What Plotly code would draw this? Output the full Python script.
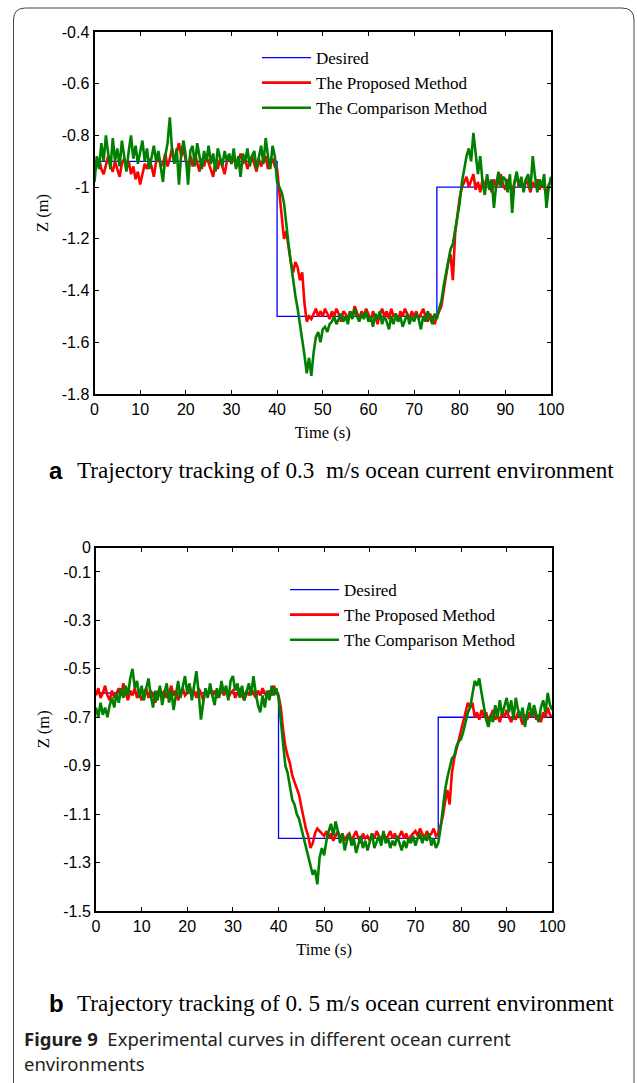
import plotly.graph_objects as go

W, H = 637, 1083

# ---------------- data ----------------
time_s = [i * 0.5 for i in range(201)]  # sampling grid 0..100 s

# desired step trajectories (breakpoints, drawn with hv steps)
desired_t = [0, 40, 75, 100]
desired_a = [-0.9, -1.5, -1.0, -1.0]
desired_b = [-0.6, -1.2, -0.7, -0.7]

proposed_a = [
    -0.90, -0.92, -0.89, -0.93, -0.95, -0.91, -0.88, -0.92, -0.94, -0.90,
    -0.93, -0.96, -0.91, -0.89, -0.93, -0.90, -0.95, -0.92, -0.97, -0.94,
    -0.99, -0.95, -0.91, -0.93, -0.89, -0.92, -0.96, -0.90, -0.88, -0.92,
    -0.91, -0.87, -0.92, -0.89, -0.85, -0.90, -0.86, -0.83, -0.88, -0.85,
    -0.90, -0.93, -0.88, -0.92, -0.87, -0.91, -0.94, -0.89, -0.92, -0.88,
    -0.91, -0.93, -0.96, -0.90, -0.93, -0.89, -0.92, -0.95, -0.90, -0.88,
    -0.91, -0.88, -0.92, -0.90, -0.87, -0.91, -0.89, -0.93, -0.90, -0.88,
    -0.91, -0.94, -0.89, -0.92, -0.90, -0.88, -0.93, -0.91, -0.89, -0.92,
    -0.93, -1.02, -1.11, -1.20, -1.17, -1.23, -1.29, -1.33, -1.29, -1.31,
    -1.36, -1.33, -1.45, -1.52, -1.50, -1.51, -1.49, -1.47, -1.50, -1.48,
    -1.50, -1.47, -1.49, -1.51, -1.48, -1.50, -1.47, -1.49, -1.52, -1.48,
    -1.49, -1.51, -1.48, -1.50, -1.46, -1.49, -1.51, -1.48, -1.50, -1.47,
    -1.49, -1.52, -1.48, -1.50, -1.53, -1.49, -1.47, -1.50, -1.48, -1.51,
    -1.47, -1.50, -1.49, -1.52, -1.48, -1.50, -1.47, -1.49, -1.51, -1.48,
    -1.50, -1.48, -1.51, -1.49, -1.47, -1.50, -1.52, -1.49, -1.51, -1.53,
    -1.50, -1.48, -1.46, -1.40, -1.35, -1.29, -1.26, -1.36, -1.18, -1.10,
    -1.04, -1.00, -0.98, -0.96, -1.00, -0.97, -0.95, -1.01, -0.98, -1.02,
    -0.97, -1.00, -0.96, -0.99, -1.02, -0.97, -1.00, -0.98, -0.95, -0.99,
    -1.01, -0.97, -0.99, -1.02, -0.98, -0.96, -1.00, -0.98, -1.01, -0.97,
    -0.99, -1.02, -0.98, -1.00, -0.97, -1.01, -0.98, -1.00, -1.03, -0.99,
    -0.98,
]

comparison_a = [
    -0.98, -0.88, -0.93, -0.83, -0.90, -0.80, -0.87, -0.93, -0.81, -0.90,
    -0.85, -0.92, -0.82, -0.88, -0.94, -0.86, -0.80, -0.89, -0.84, -0.91,
    -0.86, -0.82, -0.90, -0.85, -0.93, -0.88, -0.84, -0.90, -0.86, -0.92,
    -0.98, -0.88, -0.83, -0.73, -0.86, -0.91, -0.85, -0.99, -0.87, -0.82,
    -0.88, -0.99, -0.86, -0.84, -0.92, -0.83, -0.89, -0.93, -0.86, -0.90,
    -0.84, -0.91, -0.87, -0.94, -0.85, -0.89, -0.92, -0.86, -0.90, -0.87,
    -0.91, -0.85, -0.93, -0.88, -0.96, -0.87, -0.90, -0.85, -0.92, -0.88,
    -0.86, -0.93, -0.89, -0.84, -0.91, -0.81, -0.88, -0.93, -0.84, -0.88,
    -0.98, -1.00, -1.02, -1.06, -1.15, -1.22, -1.29, -1.36, -1.42, -1.47,
    -1.53, -1.58, -1.65, -1.72, -1.66, -1.73, -1.64, -1.58, -1.56, -1.60,
    -1.55, -1.54, -1.56, -1.53, -1.52, -1.50, -1.53, -1.51, -1.49, -1.52,
    -1.50, -1.53, -1.48, -1.51, -1.47, -1.50, -1.52, -1.49, -1.51, -1.48,
    -1.52, -1.50, -1.54, -1.49, -1.51, -1.48, -1.53, -1.50, -1.52, -1.55,
    -1.50, -1.53, -1.49, -1.52, -1.50, -1.54, -1.51, -1.49, -1.53, -1.50,
    -1.52, -1.49, -1.51, -1.55, -1.50, -1.52, -1.48, -1.51, -1.53, -1.49,
    -1.51, -1.47, -1.44, -1.38, -1.33, -1.28, -1.24, -1.22, -1.17, -1.12,
    -1.06, -0.98, -0.93, -0.88, -0.85, -0.90, -0.79, -0.86, -0.95, -0.88,
    -0.98, -1.03, -0.95, -1.01, -0.97, -1.08, -0.99, -0.94, -1.00, -0.96,
    -0.97, -1.02, -0.95, -1.10, -0.98, -0.94, -1.00, -0.96, -1.02, -0.97,
    -0.95, -1.01, -0.88, -0.96, -1.02, -0.97, -1.00, -0.95, -1.08, -1.00,
    -0.96,
]

proposed_b = [
    -0.61, -0.58, -0.62, -0.60, -0.57, -0.61, -0.63, -0.59, -0.62, -0.60,
    -0.58, -0.61, -0.56, -0.60, -0.63, -0.59, -0.61, -0.58, -0.62, -0.60,
    -0.63, -0.60, -0.58, -0.62, -0.59, -0.61, -0.64, -0.60, -0.58, -0.61,
    -0.59, -0.62, -0.60, -0.57, -0.61, -0.59, -0.63, -0.60, -0.58, -0.61,
    -0.60, -0.57, -0.61, -0.59, -0.62, -0.58, -0.60, -0.63, -0.59, -0.61,
    -0.58, -0.61, -0.59, -0.62, -0.60, -0.57, -0.61, -0.59, -0.62, -0.60,
    -0.59, -0.62, -0.60, -0.58, -0.61, -0.63, -0.59, -0.61, -0.58, -0.60,
    -0.62, -0.59, -0.61, -0.58, -0.60, -0.62, -0.59, -0.61, -0.57, -0.60,
    -0.61, -0.66, -0.75, -0.82, -0.86, -0.89, -0.94, -0.97, -0.99, -1.02,
    -1.07, -1.12, -1.16, -1.19, -1.24, -1.22, -1.18, -1.16, -1.17, -1.18,
    -1.19, -1.17, -1.20, -1.18, -1.21, -1.19, -1.17, -1.20, -1.18, -1.21,
    -1.19, -1.18, -1.21, -1.19, -1.17, -1.20, -1.22, -1.18, -1.20, -1.19,
    -1.21, -1.18, -1.20, -1.17, -1.19, -1.21, -1.18, -1.20, -1.19, -1.17,
    -1.20, -1.18, -1.21, -1.19, -1.17, -1.20, -1.18, -1.21, -1.19, -1.18,
    -1.17, -1.19, -1.16, -1.18, -1.20, -1.17, -1.19, -1.18, -1.16, -1.19,
    -1.18, -1.15, -1.11, -1.05, -1.00, -1.06, -0.93, -0.87, -0.83, -0.79,
    -0.75, -0.71, -0.68, -0.64, -0.66, -0.64, -0.70, -0.68, -0.71, -0.67,
    -0.70, -0.68, -0.72, -0.69, -0.67, -0.71, -0.69, -0.72, -0.68, -0.70,
    -0.67, -0.70, -0.72, -0.69, -0.71, -0.68, -0.70, -0.73, -0.69, -0.71,
    -0.68, -0.70, -0.67, -0.71, -0.69, -0.72, -0.68, -0.70, -0.66, -0.69,
    -0.70,
]

comparison_b = [
    -0.66, -0.70, -0.64, -0.69, -0.66, -0.70, -0.65, -0.62, -0.66, -0.60,
    -0.64, -0.58, -0.62, -0.57, -0.61, -0.54, -0.50, -0.58, -0.55, -0.62,
    -0.57, -0.63, -0.58, -0.54, -0.61, -0.66, -0.59, -0.63, -0.57, -0.65,
    -0.60, -0.56, -0.64, -0.59, -0.67, -0.61, -0.55, -0.62, -0.58, -0.53,
    -0.60, -0.56, -0.63, -0.57, -0.51, -0.60, -0.71, -0.64, -0.58, -0.62,
    -0.56, -0.61, -0.65, -0.58, -0.62, -0.55, -0.60, -0.57, -0.63, -0.55,
    -0.53, -0.59, -0.56, -0.62, -0.57, -0.63, -0.59, -0.56, -0.61, -0.53,
    -0.60, -0.65, -0.68, -0.61, -0.66, -0.59, -0.63, -0.57, -0.61, -0.58,
    -0.62, -0.72, -0.83, -0.90, -0.93, -0.98, -1.04, -1.06, -1.10, -1.12,
    -1.16, -1.19, -1.24, -1.28, -1.31, -1.35, -1.33, -1.39, -1.28, -1.24,
    -1.27, -1.21, -1.17, -1.14, -1.19, -1.13, -1.17, -1.22, -1.18, -1.25,
    -1.21, -1.18, -1.23, -1.20, -1.26, -1.22, -1.19, -1.24, -1.21, -1.25,
    -1.22, -1.18, -1.24, -1.21, -1.19, -1.23, -1.17, -1.22, -1.20, -1.24,
    -1.21, -1.23, -1.19, -1.22, -1.25, -1.21, -1.24, -1.20, -1.22, -1.19,
    -1.23, -1.20, -1.18, -1.22, -1.19, -1.21, -1.18, -1.23, -1.20, -1.24,
    -1.22, -1.16, -1.07, -1.00, -0.95, -0.91, -0.87, -0.86, -0.82, -0.80,
    -0.79, -0.76, -0.72, -0.68, -0.66, -0.60, -0.55, -0.57, -0.54, -0.60,
    -0.65, -0.71, -0.74, -0.69, -0.72, -0.65, -0.70, -0.63, -0.69, -0.66,
    -0.62, -0.68, -0.63, -0.71, -0.62, -0.67, -0.70, -0.66, -0.74, -0.68,
    -0.64, -0.70, -0.65, -0.69, -0.72, -0.66, -0.63, -0.68, -0.60, -0.65,
    -0.67,
]

x_ticks = [0, 10, 20, 30, 40, 50, 60, 70, 80, 90, 100]
x_ticktext = ["0", "10", "20", "30", "40", "50", "60", "70", "80", "90", "100"]
ya_ticks = [-0.4, -0.6, -0.8, -1.0, -1.2, -1.4, -1.6, -1.8]
ya_ticktext = ["-0.4", "-0.6", "-0.8", "-1", "-1.2", "-1.4", "-1.6", "-1.8"]
yb_ticks = [0, -0.1, -0.3, -0.5, -0.7, -0.9, -1.1, -1.3, -1.5]
yb_ticktext = ["0", "-0.1", "-0.3", "-0.5", "-0.7", "-0.9", "-1.1", "-1.3", "-1.5"]

series_names = ["Desired", "The Proposed Method", "The Comparison Method"]
caption_a = "Trajectory tracking of 0.3  m/s ocean current environment"
caption_b = "Trajectory tracking of 0. 5 m/s ocean current environment"
fig_label = "Figure 9"
fig_caption_1 = "Experimental curves in different ocean current"
fig_caption_2 = "environments"

# ---------------- styling helpers ----------------
SERIF = "Liberation Serif, Times New Roman, serif"
SANS = "Liberation Sans, Arial, sans-serif"
CAP = "Noto Sans, Open Sans, sans-serif"
BLUE, RED, GREEN = "#0000ff", "#ff0000", "#008000"


def px_x(p):
    return p / W


def px_y(p):
    return 1 - p / H


fig = go.Figure()

panels = [
    ("x", "y", "legend", desired_a, proposed_a, comparison_a),
    ("x2", "y2", "legend2", desired_b, proposed_b, comparison_b),
]
for xa, ya, lg, des, pro, com in panels:
    fig.add_trace(go.Scatter(x=desired_t, y=des, mode="lines", line_shape="hv",
                             line=dict(color=BLUE, width=1.3), name=series_names[0],
                             xaxis=xa, yaxis=ya, legend=lg))
    fig.add_trace(go.Scatter(x=time_s, y=pro, mode="lines",
                             line=dict(color=RED, width=2.6), name=series_names[1],
                             xaxis=xa, yaxis=ya, legend=lg))
    fig.add_trace(go.Scatter(x=time_s, y=com, mode="lines",
                             line=dict(color=GREEN, width=2.6), name=series_names[2],
                             xaxis=xa, yaxis=ya, legend=lg))

axis_common = dict(
    showline=True, linewidth=2, linecolor="black", mirror="allticks",
    ticks="inside", ticklen=4, tickwidth=1.2, tickcolor="black",
    showgrid=False, zeroline=False, automargin=False,
    tickfont=dict(family=SANS, size=16, color="black"),
)
title_font = dict(family=SERIF, size=16.5, color="black")

fig.update_layout(
    width=W, height=H,
    margin=dict(l=0, r=0, t=0, b=0, pad=0, autoexpand=False),
    paper_bgcolor="white", plot_bgcolor="white",
    xaxis=dict(axis_common, domain=[px_x(94.5), px_x(551)], range=[0, 100],
               tickvals=x_ticks, ticktext=x_ticktext, anchor="y",
               title=dict(text="Time (s)", font=title_font, standoff=9)),
    yaxis=dict(axis_common, domain=[px_y(394), px_y(32)], range=[-1.8, -0.4],
               tickvals=ya_ticks, ticktext=ya_ticktext, anchor="x",
               title=dict(text="Z (m)", font=title_font, standoff=9)),
    xaxis2=dict(axis_common, domain=[px_x(96), px_x(552.3)], range=[0, 100],
                tickvals=x_ticks, ticktext=x_ticktext, anchor="y2",
                title=dict(text="Time (s)", font=title_font, standoff=9)),
    yaxis2=dict(axis_common, domain=[px_y(911), px_y(547.7)], range=[-1.5, 0],
                tickvals=yb_ticks, ticktext=yb_ticktext, anchor="x2",
                title=dict(text="Z (m)", font=title_font, standoff=9)),
    legend=dict(x=px_x(257), y=px_y(40), xanchor="left", yanchor="top",
                bgcolor="rgba(0,0,0,0)", borderwidth=0, itemwidth=49,
                font=dict(family=SERIF, size=17, color="black"), tracegroupgap=0),
    legend2=dict(x=px_x(285), y=px_y(572), xanchor="left", yanchor="top",
                 bgcolor="rgba(0,0,0,0)", borderwidth=0, itemwidth=49,
                 font=dict(family=SERIF, size=17, color="black"), tracegroupgap=0),
    showlegend=True,
)

# rounded frame around the figure panel (open at the bottom edge)
x0, x1, yt, yb = px_x(13.5), px_x(634), px_y(8), px_y(1095)
rx, ry = 12 / W, 12 / H
frame = (f"M {x0},{yb} L {x0},{yt - ry} Q {x0},{yt} {x0 + rx},{yt} "
         f"L {x1 - rx},{yt} Q {x1},{yt} {x1},{yt - ry} L {x1},{yb}")
fig.add_shape(type="path", path=frame, xref="paper", yref="paper",
              line=dict(color="#444444", width=1), layer="above")

# captions
def add_text(text, x, y, family, size, color="black"):
    fig.add_annotation(text=text, x=px_x(x), y=px_y(y), xref="paper", yref="paper",
                       xanchor="left", yanchor="middle", showarrow=False,
                       font=dict(family=family, size=size, color=color))

add_text("<b>a</b>", 47, 470, SANS, 24)
add_text(caption_a, 75, 470, SERIF, 23.2)
add_text("<b>b</b>", 47, 1003, SANS, 24)
add_text(caption_b, 75, 1003, SERIF, 23.2)
add_text(f"<b>{fig_label}</b>  {fig_caption_1}", 22, 1038, CAP, 18.5, "#231f20")
add_text(fig_caption_2, 22, 1063, CAP, 18.5, "#231f20")

fig.write_html("out.html")
